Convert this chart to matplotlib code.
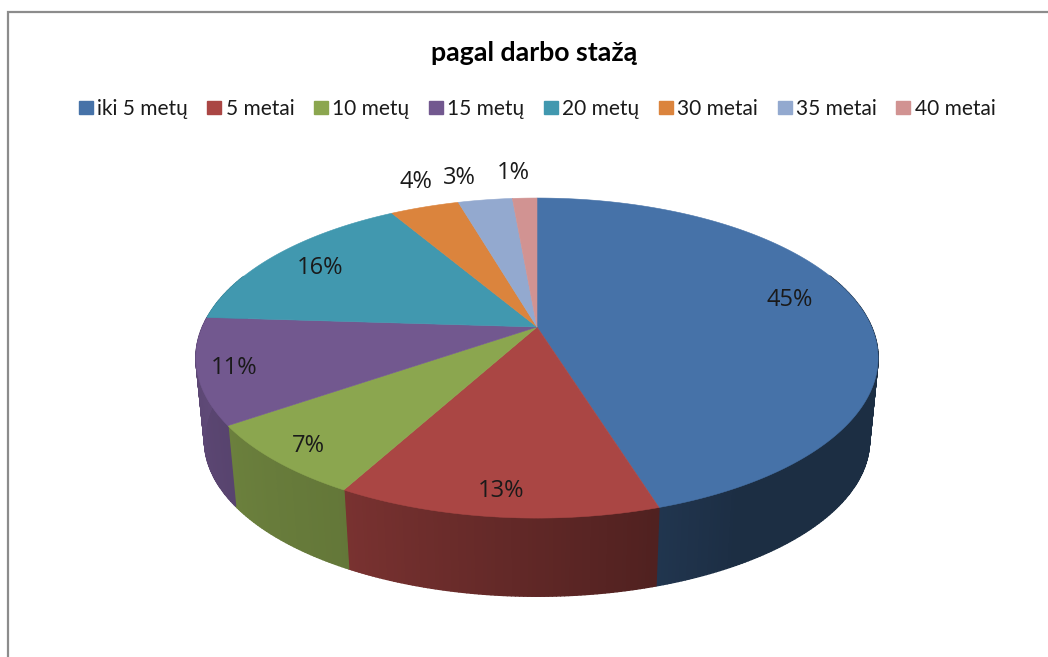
import numpy as np
import matplotlib
matplotlib.use("Agg")
import matplotlib.pyplot as plt
from matplotlib.collections import PolyCollection
from matplotlib.colors import to_rgb
from matplotlib.patches import Patch

# ==========================================
# DATA
# ==========================================

categories = ["iki 5 metų", "5 metai", "10 metų", "15 metų",
              "20 metų", "30 metai", "35 metai", "40 metai"]
values = [45.2, 12.75, 7.4, 10.65, 15.55, 3.95, 3.1, 1.4]

colors = ["#4672A8", "#AA4644", "#8BA64F", "#72588F",
          "#4198AF", "#DB843D", "#93A9CF", "#D19392"]

# label centres in pixels of the picture
label_x = [790, 501, 308, 234, 320, 416, 459, 513]
label_y = [300, 491, 446, 368, 268, 182, 178, 173]

# ==========================================
# GEOMETRY OF THE TILTED DISC
# ==========================================

CX, CY = 537, 327
RX, RY = 334.6, 154
PERSP = 0.194
DEPTH = 83
BOTTOM_SCALE = 0.975


def rim(theta, bottom=False):
    # theta clockwise from the top of the disc
    u = np.sin(theta)
    v = np.cos(theta)
    w = 1 + PERSP * v
    s = BOTTOM_SCALE if bottom else 1
    d = DEPTH if bottom else 0
    return CX + s * RX * u / w, CY + d - s * RY * v / w


def side_shade(theta):
    # side wall gets darker from the left to the right
    return np.interp(np.degrees(theta),
                     [0, 150, 163, 210, 240, 275, 360],
                     [0.40, 0.40, 0.47, 0.72, 0.78, 0.84, 0.84])


fig = plt.figure(figsize=(10.48, 6.57), dpi=100)
ax = fig.add_axes([0, 0, 1, 1])
ax.set_xlim(0, 1048)
ax.set_ylim(657, 0)
ax.axis("off")

# frame, open to the right and to the bottom
ax.plot([8, 8, 1048], [657, 12, 12], color="#8C8C8C", lw=1.6,
        solid_joinstyle="miter")

edges = np.concatenate([[0], np.cumsum(values)]) / np.sum(values) * 2 * np.pi

# side wall
quads = []
quad_colors = []
for i in range(len(values)):
    n = max(int((edges[i + 1] - edges[i]) / 0.01), 2)
    t = np.linspace(edges[i], edges[i + 1], n)
    base = np.array(to_rgb(colors[i]))
    for a, b in zip(t[:-1], t[1:]):
        if np.cos((a + b) / 2) > 0.35:
            continue
        xa, ya = rim(a)
        xb, yb = rim(b)
        xc, yc = rim(b, bottom=True)
        xd, yd = rim(a, bottom=True)
        quads.append([(xa, ya), (xb, yb), (xc, yc), (xd, yd)])
        quad_colors.append(base * side_shade((a + b) / 2))

ax.add_collection(PolyCollection(quads, facecolors=quad_colors,
                                 edgecolors=quad_colors, linewidths=1.0))

# top face
for i in range(len(values)):
    t = np.linspace(edges[i], edges[i + 1], 200)
    x, y = rim(t)
    ax.fill(np.r_[CX, x], np.r_[CY, y], color=colors[i], lw=0.4)

# percent labels
for val, lx, ly in zip(values, label_x, label_y):
    ax.text(lx, ly, f"{val:.0f}%", ha="center", va="center",
            fontsize=17, family="Open Sans", color="#1a1a1a")

ax.text(534, 53, "pagal darbo stažą", ha="center", va="center",
        fontsize=19.3, fontweight="bold", family="Lato", color="black")

handles = [Patch(facecolor=c, edgecolor=c, label=n)
           for c, n in zip(colors, categories)]
ax.legend(handles=handles, ncol=8, frameon=False,
          loc="center", bbox_to_anchor=(537 / 1048, 1 - 109 / 657),
          prop={"family": "Lato", "size": 15},
          handlelength=0.67, handleheight=0.58, handletextpad=0.2,
          columnspacing=0.95, labelcolor="#1a1a1a")

fig.savefig("out.png", dpi=100)
